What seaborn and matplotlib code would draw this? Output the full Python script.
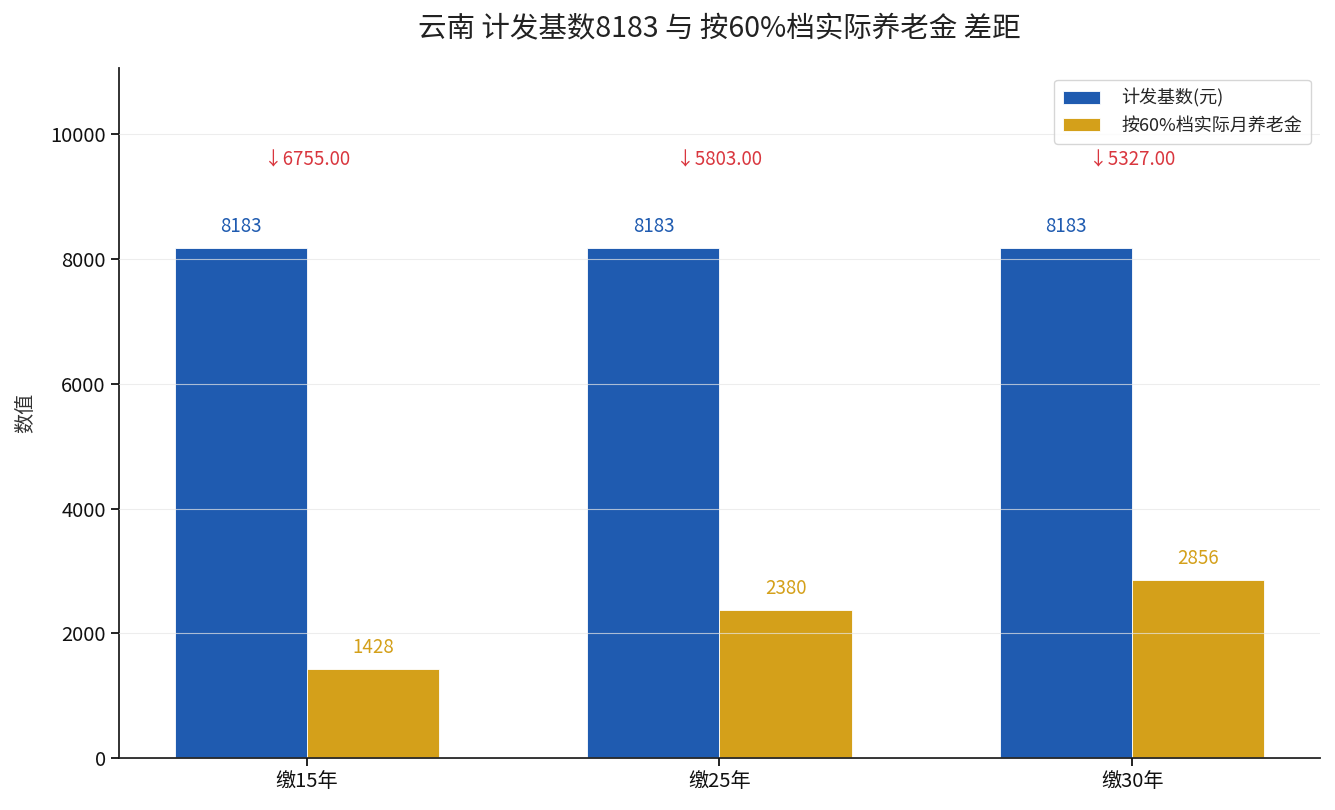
import matplotlib
matplotlib.use("Agg")
import matplotlib.pyplot as plt
import seaborn as sns
import pandas as pd

categories = ["缴15年", "缴25年", "缴30年"]
base_values = [8183, 8183, 8183]
pension_values = [1428, 2380, 2856]
series_names = ["计发基数(元)", "按60%档实际月养老金"]
colors = ["#1F5BB0", "#D4A01A"]

sns.set_theme(style="ticks")
plt.rcParams['font.family'] = ['Noto Sans CJK SC', 'DejaVu Sans']
plt.rcParams['axes.unicode_minus'] = False

df = pd.DataFrame({
    "cat": categories * 2,
    "series": [series_names[0]] * 3 + [series_names[1]] * 3,
    "value": base_values + pension_values,
})

fig = plt.figure(figsize=(13.35, 8.1), dpi=100)
ax = fig.add_axes([0.0891, 0.0642, 0.8997, 0.8518])

sns.barplot(data=df, x="cat", y="value", hue="series", palette=colors, saturation=1,
            width=0.64, edgecolor="white", linewidth=0.6, ax=ax, errorbar=None)

ymax = max(base_values) * 1.352
ax.set_ylim(0, ymax)
ax.set_xlim(-0.455, 2.455)
ax.set_yticks([0, 2000, 4000, 6000, 8000, 10000])

ax.set_axisbelow(False)
ax.yaxis.grid(True, color="#e6e6e6", linewidth=0.8, alpha=0.7)
ax.xaxis.grid(False)

for s in ["top", "right"]:
    ax.spines[s].set_visible(False)
for s in ["left", "bottom"]:
    ax.spines[s].set_color("#222222")
    ax.spines[s].set_linewidth(1.3)
ax.tick_params(axis="both", labelsize=14.5, colors="#111111", length=6, width=1.3)

ax.set_xlabel("")
ax.set_ylabel("数值", fontsize=14.5, color="#333333", labelpad=10)
ax.set_title("云南 计发基数8183 与 按60%档实际养老金 差距", fontsize=20.5, color="#222222", pad=22)

off = 0.16
for i, (b, p) in enumerate(zip(base_values, pension_values)):
    ax.text(i - off, b + 170, f"{b}", ha="center", va="bottom", fontsize=13.5, color=colors[0])
    ax.text(i + off, p + 170, f"{p}", ha="center", va="bottom", fontsize=13.5, color=colors[1])
    ax.text(i, 9590, f"↓{b - p:.2f}", ha="center", va="center", fontsize=13.5, color="#D9363E")

leg = ax.legend(loc="upper right", fontsize=13, frameon=True, fancybox=True,
                handlelength=2.0, handletextpad=1.2, borderpad=0.5,
                bbox_to_anchor=(1.0, 0.996))
leg.get_frame().set_edgecolor("#cccccc")

fig.savefig("out.png", dpi=100)
